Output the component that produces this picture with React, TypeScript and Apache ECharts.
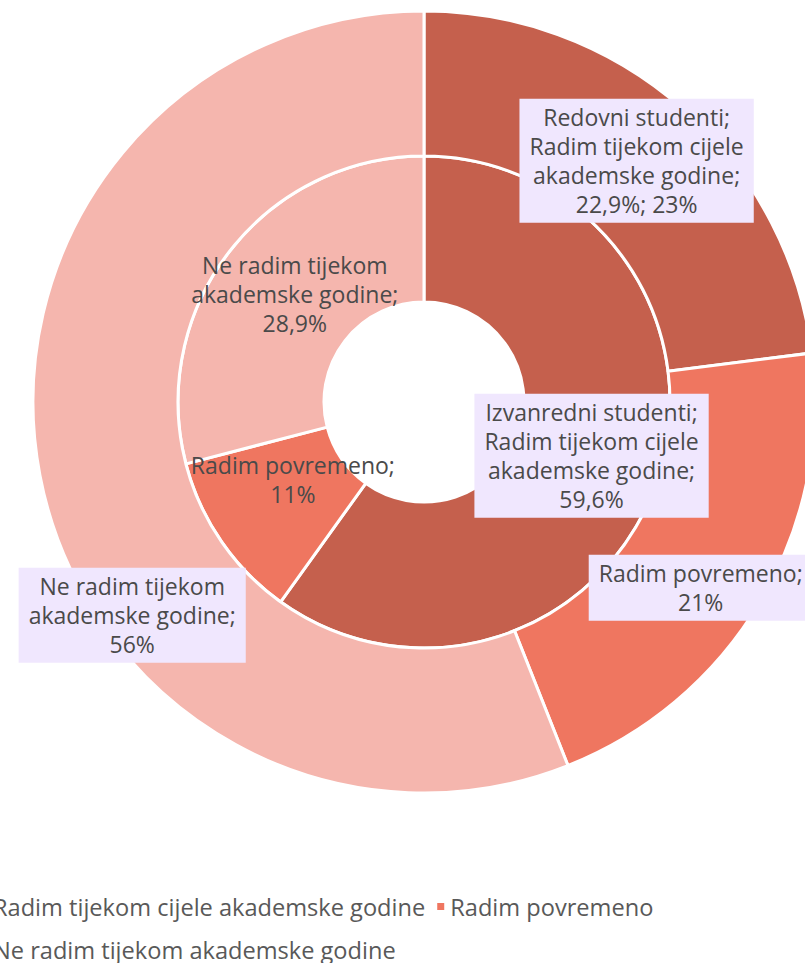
import React, { useEffect, useRef } from "react";
import * as echarts from "echarts";

const categories = [
  "Radim tijekom cijele akademske godine",
  "Radim povremeno",
  "Ne radim tijekom akademske godine",
];
const redovniValues = [23, 21, 56];
const izvanredniValues = [59.6, 11, 28.9];
const redovniLabels = [
  "Redovni studenti;\nRadim tijekom cijele\nakademske godine;\n22,9%; 23%",
  "Radim povremeno;\n21%",
  "Ne radim tijekom\nakademske godine;\n56%",
];
const izvanredniLabels = [
  "Izvanredni studenti;\nRadim tijekom cijele\nakademske godine;\n59,6%",
  "Radim povremeno;\n11%",
  "Ne radim tijekom\nakademske godine;\n28,9%",
];
const colors = ["#C5604D", "#EF7660", "#F5B6AE"];

const FONT = "Open Sans";
const TEXT = "#4a4a4a";
const BOX = "#F0E7FE";

export default function App() {
  const ref = useRef<HTMLDivElement>(null);
  useEffect(() => {
    document.body.style.margin = "0";
    const chart = echarts.init(ref.current!, null, { renderer: "svg" });
    const outerOffsets = [[0, 0], [0, 22], [24, 153]];
    const innerOffsets = [[0, 0], [14, -22], [10, 0]];
    const outerBox = [true, true, true];
    const innerBox = [true, false, false];
    const mk = (vals: number[], labels: string[], offs: number[][], box: boolean[]) =>
      vals.map((v, i) => ({
        value: v,
        name: categories[i],
        itemStyle: { color: colors[i] },
        label: {
          formatter: labels[i],
          offset: offs[i],
          backgroundColor: box[i] ? BOX : "transparent",
          padding: box[i] ? [4, 10, 4, 10] : 0,
        },
      }));
    const labelBase = {
      show: true,
      position: "inside",
      rotate: 0,
      fontFamily: FONT,
      fontSize: 23,
      lineHeight: 29,
      color: TEXT,
      align: "center",
    };
    chart.setOption({
      animation: false,
      textStyle: { fontFamily: FONT },
      legend: {
        data: categories,
        orient: "horizontal",
        left: -27,
        top: 885,
        width: 760,
        icon: "rect",
        itemWidth: 9,
        itemHeight: 9,
        itemGap: 10,
        textStyle: { fontFamily: FONT, fontSize: 23.6, lineHeight: 33, color: "#595959" },
      },
      series: [
        {
          type: "pie",
          name: "Izvanredni studenti",
          center: [424, 402],
          radius: [100, 246],
          startAngle: 90,
          clockwise: true,
          avoidLabelOverlap: false,
          itemStyle: { borderColor: "#ffffff", borderWidth: 3 },
          label: labelBase,
          labelLine: { show: false },
          emphasis: { disabled: true },
          data: mk(izvanredniValues, izvanredniLabels, innerOffsets, innerBox),
        },
        {
          type: "pie",
          name: "Redovni studenti",
          center: [424, 402],
          radius: [246, 391],
          startAngle: 90,
          clockwise: true,
          avoidLabelOverlap: false,
          itemStyle: { borderColor: "#ffffff", borderWidth: 3 },
          label: labelBase,
          labelLine: { show: false },
          emphasis: { disabled: true },
          data: mk(redovniValues, redovniLabels, outerOffsets, outerBox),
        },
      ],
    });
    return () => chart.dispose();
  }, []);
  return (
    <div
      ref={ref}
      style={{ position: "absolute", left: 0, top: 0, width: 805, height: 963, overflow: "hidden" }}
    />
  );
}
